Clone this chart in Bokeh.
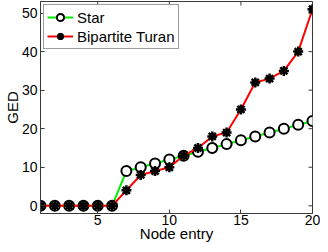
import math
from bokeh.plotting import figure
from bokeh.models import FixedTicker, Range1d, Legend
from bokeh.embed import file_html
from bokeh.resources import INLINE

nodes = list(range(1, 21))
star = [0, 0, 0, 0, 0, 0, 9, 10, 11, 12, 13, 14, 15, 16, 17, 18, 19, 20, 21, 22]
turan = [0, 0, 0, 0, 0, 0, 4, 8, 9, 10, 13, 15, 18, 19, 25, 32, 33, 35, 40, 51]
x_ticks = [5, 10, 15, 20]
y_ticks = [0, 10, 20, 30, 40, 50]
X_MIN, X_MAX = 1, 20
Y_MIN, Y_MAX = -2, 53

FONT = "Liberation Sans"
AX = "#3a3a3a"

p = figure(width=320, height=244, output_backend="svg", toolbar_location=None,
           x_range=Range1d(X_MIN, X_MAX), y_range=Range1d(Y_MIN, Y_MAX),
           min_border_left=0, min_border_right=8, min_border_top=1, min_border_bottom=0,
           x_axis_label="Node entry", y_axis_label="GED")
p.xgrid.visible = False
p.ygrid.visible = False
p.outline_line_color = AX
p.background_fill_color = "white"

for ax, tk in ((p.xaxis[0], x_ticks), (p.yaxis[0], y_ticks)):
    ax.ticker = FixedTicker(ticks=tk)
    ax.major_tick_in = 4
    ax.major_tick_out = 0
    ax.minor_tick_line_color = None
    ax.axis_line_color = AX
    ax.major_tick_line_color = AX
    ax.major_label_text_font = FONT
    ax.major_label_text_font_size = "14px"
    ax.major_label_text_color = "black"
    ax.axis_label_text_font = FONT
    ax.axis_label_text_font_size = "15px"
    ax.axis_label_text_font_style = "normal"
    ax.axis_label_text_color = "black"
p.yaxis.major_label_standoff = 3
p.yaxis.axis_label_standoff = -2
p.xaxis.major_label_standoff = 1
p.xaxis.axis_label_standoff = -3

# mirrored inward ticks on the top and right edges (clipped to the frame)
p.scatter(x_ticks, [Y_MAX] * len(x_ticks), marker="dash", angle=math.pi / 2, size=8,
          line_color=AX, line_width=1)
p.scatter([X_MAX] * len(y_ticks), y_ticks, marker="dash", size=8,
          line_color=AX, line_width=1)

l1 = p.line(nodes, star, line_color="#00ee00", line_width=2)
s1 = p.scatter(nodes, star, marker="circle", size=10, fill_color="white",
               line_color="black", line_width=2)
l2 = p.line(nodes, turan, line_color="#ff0000", line_width=2)
s2 = p.scatter(nodes, turan, marker="asterisk", size=10, line_color="black", line_width=2.5)

legend = Legend(items=[("Star", [l1, s1]), ("Bipartite Turan", [l2, s2])],
                location="top_left", label_text_font=FONT, label_text_font_size="15px",
                label_text_color="black", glyph_width=26, glyph_height=18,
                label_height=18, spacing=1, padding=3, margin=3,
                border_line_color=AX, background_fill_alpha=1.0, label_standoff=4)
p.add_layout(legend)

open("out.html", "w").write(file_html(p, INLINE))
